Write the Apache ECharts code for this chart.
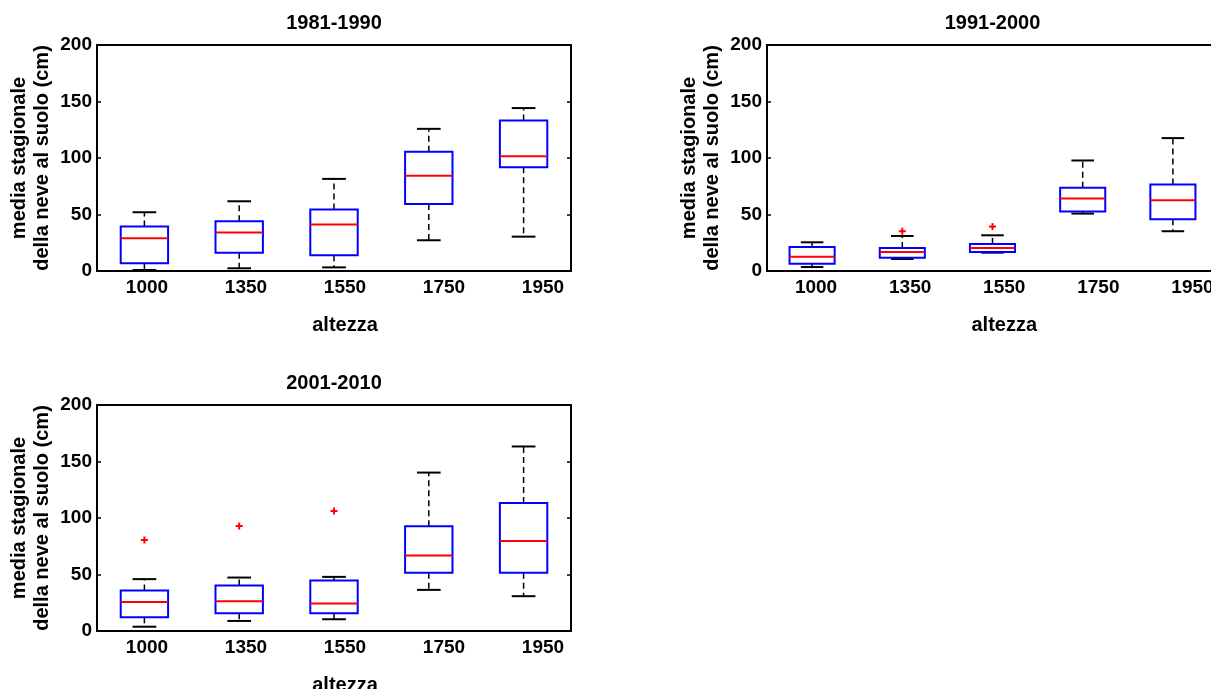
<!DOCTYPE html>
<html>
<head>
<meta charset="utf-8">
<script src="https://cdn.jsdelivr.net/npm/echarts@6/dist/echarts.min.js"></script>
<style>
html,body{margin:0;padding:0;background:#fff;}
#chart{width:1211px;height:689px;}
</style>
</head>
<body>
<div id="chart"></div>
<script>
// ---- data ----
const categories = ['1000', '1350', '1550', '1750', '1950'];
const yTicks = [0, 50, 100, 150, 200];
// each box: [lower whisker, Q1, median, Q3, upper whisker]
const box1981 = [
  [0.9, 6.8, 29.0, 39.3, 52.0],
  [2.4, 16.2, 34.0, 44.0, 61.7],
  [3.2, 13.9, 41.1, 54.4, 81.5],
  [27.2, 59.4, 84.2, 105.5, 125.8],
  [30.4, 91.9, 101.6, 133.2, 144.2]
];
const box1991 = [
  [3.5, 6.5, 12.7, 21.3, 25.4],
  [10.6, 11.8, 16.8, 20.4, 31.0],
  [16.2, 16.8, 20.4, 23.9, 31.6],
  [50.8, 52.6, 64.1, 73.6, 97.8],
  [35.2, 45.8, 62.6, 76.5, 117.6]
];
const box2001 = [
  [3.8, 12.1, 25.7, 35.8, 45.9],
  [8.9, 15.7, 26.3, 40.2, 47.3],
  [10.4, 15.7, 24.3, 44.7, 47.9],
  [36.4, 51.5, 66.9, 92.6, 140.2],
  [30.8, 51.5, 79.6, 113.3, 163.3]
];
// outliers: [category, value]
const out1981 = [];
const out1991 = [['1350', 35.2], ['1550', 39.3]];
const out2001 = [['1000', 80.5], ['1350', 92.9], ['1550', 106.2]];
const titles = ['1981-1990', '1991-2000', '2001-2010'];
const xName = 'altezza';
const yName = 'media stagionale\ndella neve al suolo (cm)';

// ---- layout ----
const FONT = '"Liberation Sans", Arial, Helvetica, sans-serif';
const layouts = [
  { plot: {left: 97, top: 45, width: 474, height: 226}, labels: {left: 97.5, width: 495}, titleTop: 12 },
  { plot: {left: 767, top: 45, width: 451, height: 226}, labels: {left: 769, width: 470.5}, titleTop: 12 },
  { plot: {left: 97, top: 405, width: 474, height: 226}, labels: {left: 97.5, width: 495}, titleTop: 372 }
];
const boxSets = [box1981, box1991, box2001];
const outSets = [out1981, out1991, out2001];

function renderBox(params, api) {
  const c = api.value(0);
  const x = api.coord([c, 0])[0];
  const band = api.size([1, 0])[0];
  const hb = band * 0.25, hc = band * 0.125;
  const y = k => api.coord([c, api.value(k)])[1];
  const lo = y(1), q1 = y(2), md = y(3), q3 = y(4), hi = y(5);
  const dash = {stroke: '#000', lineWidth: 1.5, lineDash: [6, 4], fill: null};
  const solid = {stroke: '#000', lineWidth: 2, fill: null};
  return {
    type: 'group',
    children: [
      {type: 'line', shape: {x1: x, y1: q3, x2: x, y2: hi}, style: dash},
      {type: 'line', shape: {x1: x, y1: q1, x2: x, y2: lo}, style: dash},
      {type: 'line', shape: {x1: x - hc, y1: hi, x2: x + hc, y2: hi}, style: solid},
      {type: 'line', shape: {x1: x - hc, y1: lo, x2: x + hc, y2: lo}, style: solid},
      {type: 'rect', shape: {x: x - hb, y: q3, width: 2 * hb, height: q1 - q3},
        style: {stroke: '#0000ff', lineWidth: 2, fill: 'none'}},
      {type: 'line', shape: {x1: x - hb, y1: md, x2: x + hb, y2: md},
        style: {stroke: '#ff0000', lineWidth: 2, fill: null}}
    ]
  };
}

function renderPlus(params, api) {
  const p = api.coord([api.value(0), api.value(1)]);
  const s = 3.5;
  const st = {stroke: '#ff0000', lineWidth: 2, fill: null};
  return {
    type: 'group',
    children: [
      {type: 'line', shape: {x1: p[0] - s, y1: p[1], x2: p[0] + s, y2: p[1]}, style: st},
      {type: 'line', shape: {x1: p[0], y1: p[1] - s, x2: p[0], y2: p[1] + s}, style: st}
    ]
  };
}

const grid = [], xAxis = [], yAxis = [], series = [], title = [];
layouts.forEach((L, i) => {
  const g = grid.length;
  grid.push(Object.assign({show: true, borderColor: '#000', borderWidth: 2, containLabel: false, outerBoundsMode: 'none'}, L.plot));
  grid.push({left: L.labels.left, width: L.labels.width, top: L.plot.top, height: L.plot.height, show: false, containLabel: false, outerBoundsMode: 'none'});

  const xa = xAxis.length;
  xAxis.push({
    gridIndex: g, type: 'category', data: categories, boundaryGap: true,
    axisLine: {lineStyle: {color: '#000', width: 2}},
    axisTick: {show: false}, axisLabel: {show: false}, splitLine: {show: false}
  });
  xAxis.push({
    gridIndex: g + 1, type: 'category', data: categories, boundaryGap: true,
    axisLine: {show: false}, axisTick: {show: false}, splitLine: {show: false},
    axisLabel: {color: '#000', fontFamily: FONT, fontWeight: 'bold', fontSize: 19, margin: 7},
    name: xName, nameLocation: 'middle', nameGap: 44,
    nameTextStyle: {color: '#000', fontFamily: FONT, fontWeight: 'bold', fontSize: 20}
  });

  const ya = yAxis.length;
  yAxis.push({
    gridIndex: g, type: 'value', min: yTicks[0], max: yTicks[yTicks.length - 1], interval: 50,
    position: 'left',
    axisLine: {show: true, lineStyle: {color: '#000', width: 2}},
    axisTick: {show: true, inside: true, length: 4, lineStyle: {color: '#000', width: 1.5}},
    axisLabel: {color: '#000', fontFamily: FONT, fontWeight: 'bold', fontSize: 19, margin: 5},
    splitLine: {show: false},
    name: yName, nameLocation: 'middle', nameGap: 43,
    nameTextStyle: {color: '#000', fontFamily: FONT, fontWeight: 'bold', fontSize: 20, lineHeight: 23}
  });
  yAxis.push({
    gridIndex: g, type: 'value', min: yTicks[0], max: yTicks[yTicks.length - 1], interval: 50,
    position: 'right',
    axisLine: {show: true, lineStyle: {color: '#000', width: 2}},
    axisTick: {show: true, inside: true, length: 4, lineStyle: {color: '#000', width: 1.5}},
    axisLabel: {show: false}, splitLine: {show: false}
  });
  yAxis.push({gridIndex: g + 1, type: 'value', show: false, min: 0, max: 1});

  series.push({
    type: 'custom', xAxisIndex: xa, yAxisIndex: ya,
    renderItem: renderBox, silent: true,
    encode: {x: 0, y: [1, 2, 3, 4, 5]},
    data: boxSets[i].map((b, k) => [k].concat(b))
  });
  series.push({
    type: 'custom', xAxisIndex: xa, yAxisIndex: ya,
    renderItem: renderPlus, silent: true,
    encode: {x: 0, y: 1},
    data: outSets[i].map(o => [categories.indexOf(o[0]), o[1]])
  });

  title.push({
    text: titles[i], left: L.plot.left + L.plot.width / 2, top: L.titleTop + 1, textAlign: 'center', padding: 0,
    textStyle: {color: '#000', fontFamily: FONT, fontWeight: 'bold', fontSize: 20}
  });
});

const chart = echarts.init(document.getElementById('chart'), null, {renderer: 'canvas'});
chart.setOption({
  animation: false,
  backgroundColor: '#fff',
  title: title,
  grid: grid,
  xAxis: xAxis,
  yAxis: yAxis,
  series: series
});
</script>
</body>
</html>
